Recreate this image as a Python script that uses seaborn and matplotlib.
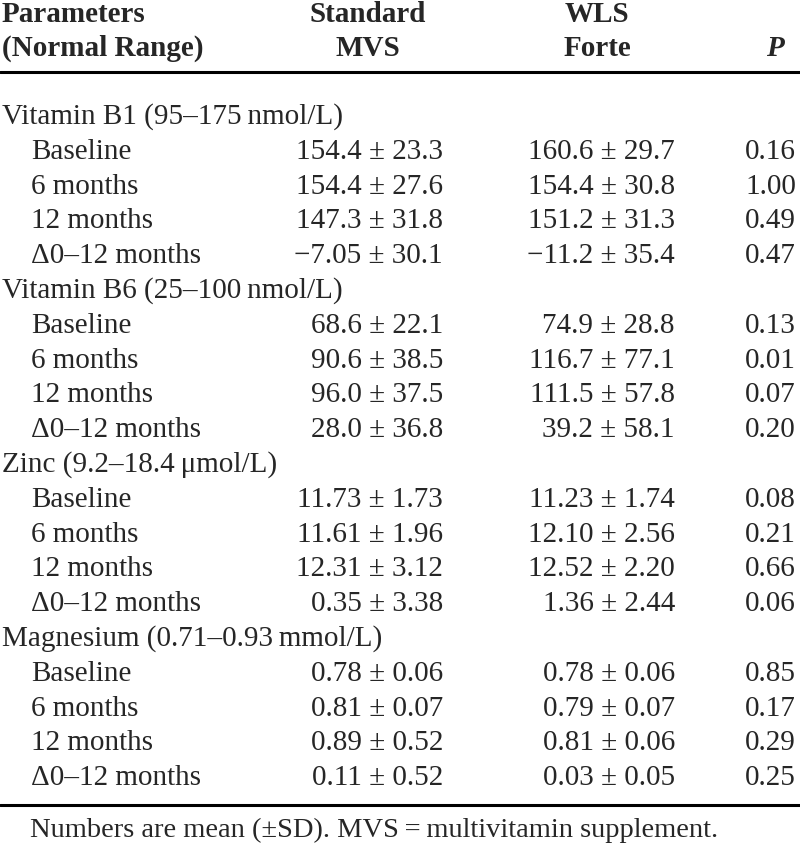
import matplotlib.pyplot as plt
import seaborn as sns

# table content
groups = ["Vitamin B1 (95\u2013175\u2009nmol/L)",
          "Vitamin B6 (25\u2013100\u2009nmol/L)",
          "Zinc (9.2\u201318.4\u2009\u03bcmol/L)",
          "Magnesium (0.71\u20130.93\u2009mmol/L)"]
timepoints = ["Baseline", "6 months", "12 months", "\u03940\u201312 months"]

standard_mvs = [
    ["154.4 \u00b1 23.3", "154.4 \u00b1 27.6", "147.3 \u00b1 31.8", "\u22127.05 \u00b1 30.1"],
    ["68.6 \u00b1 22.1", "90.6 \u00b1 38.5", "96.0 \u00b1 37.5", "28.0 \u00b1 36.8"],
    ["11.73 \u00b1 1.73", "11.61 \u00b1 1.96", "12.31 \u00b1 3.12", "0.35 \u00b1 3.38"],
    ["0.78 \u00b1 0.06", "0.81 \u00b1 0.07", "0.89 \u00b1 0.52", "0.11 \u00b1 0.52"],
]
wls_forte = [
    ["160.6 \u00b1 29.7", "154.4 \u00b1 30.8", "151.2 \u00b1 31.3", "\u221211.2 \u00b1 35.4"],
    ["74.9 \u00b1 28.8", "116.7 \u00b1 77.1", "111.5 \u00b1 57.8", "39.2 \u00b1 58.1"],
    ["11.23 \u00b1 1.74", "12.10 \u00b1 2.56", "12.52 \u00b1 2.20", "1.36 \u00b1 2.44"],
    ["0.78 \u00b1 0.06", "0.79 \u00b1 0.07", "0.81 \u00b1 0.06", "0.03 \u00b1 0.05"],
]
p_values = [
    ["0.16", "1.00", "0.49", "0.47"],
    ["0.13", "0.01", "0.07", "0.20"],
    ["0.08", "0.21", "0.66", "0.06"],
    ["0.85", "0.17", "0.29", "0.25"],
]
footnote = "Numbers are mean (\u00b1SD). MVS\u2009=\u2009multivitamin supplement."

sns.set_theme(style="white")
plt.rcParams['font.family'] = ['Liberation Serif', 'DejaVu Serif']

fig = plt.figure(figsize=(8, 8.55), dpi=100)
ax = fig.add_axes([0, 0, 1, 1])
ax.set_xlim(0, 800)
ax.set_ylim(855, 0)
ax.axis("off")

fs = 21
hdr = dict(fontsize=fs, fontweight="bold", va="center")

# header
ax.text(2, 15, "Parameters", ha="left", **hdr)
ax.text(2, 48, "(Normal Range)", ha="left", **hdr)
ax.text(368, 15, "Standard", ha="center", **hdr)
ax.text(368, 48, "MVS", ha="center", **hdr)
ax.text(597, 15, "WLS", ha="center", **hdr)
ax.text(597, 48, "Forte", ha="center", **hdr)
ax.text(784, 48, "P", ha="right", fontstyle="italic", **hdr)

ax.axhline(72, color="black", lw=2.2)

y0, step = 117, 34.8
row = 0
for g, name in enumerate(groups):
    ax.text(2, y0 + step * row, name, fontsize=fs, va="center", ha="left")
    row += 1
    for t, tp in enumerate(timepoints):
        y = y0 + step * row
        ax.text(31, y, tp, fontsize=fs, va="center", ha="left")
        ax.text(443, y, standard_mvs[g][t], fontsize=fs, va="center", ha="right")
        ax.text(675, y, wls_forte[g][t], fontsize=fs, va="center", ha="right")
        ax.text(796, y, p_values[g][t], fontsize=fs, va="center", ha="right")
        row += 1

ax.axhline(805, color="black", lw=2.2)
ax.text(30, 830, footnote, fontsize=20.5, va="center", ha="left")

fig.savefig("out.png", dpi=100)
